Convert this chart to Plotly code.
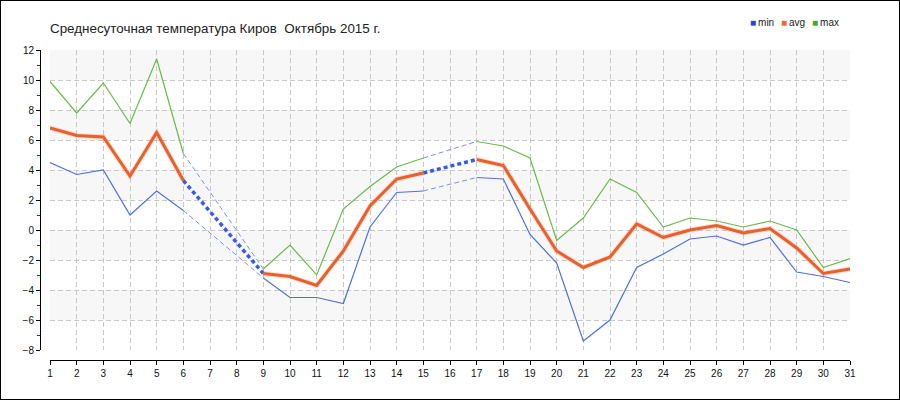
import plotly.graph_objects as go

days = list(range(1, 32))
t_min = [4.5, 3.7, 4.0, 1.0, 2.6, 1.3, None, None, -3.2, -4.5, -4.5, -4.9, 0.2, 2.5, 2.6, None,
         3.5, 3.4, -0.3, -2.2, -7.4, -6.0, -2.5, -1.6, -0.6, -0.4, -1.0, -0.5, -2.8, -3.1, -3.5]
t_avg = [6.8, 6.3, 6.2, 3.6, 6.5, 3.3, None, None, -2.9, -3.1, -3.7, -1.4, 1.6, 3.4, 3.8, None,
         4.7, 4.3, 1.4, -1.4, -2.5, -1.8, 0.4, -0.5, 0.0, 0.3, -0.2, 0.1, -1.2, -2.9, -2.6]
t_max = [9.9, 7.8, 9.8, 7.1, 11.4, 5.1, None, None, -2.6, -1.0, -3.0, 1.4, 2.9, 4.2, 4.8, None,
         5.9, 5.6, 4.8, -0.7, 0.8, 3.4, 2.5, 0.2, 0.8, 0.6, 0.2, 0.6, 0.0, -2.5, -1.9]
y_ticks = list(range(-8, 13, 2))
band_ranges = [(10, 12), (6, 8), (2, 4), (-2, 0), (-6, -4)]
title_text = "Среднесуточная температура Киров\u00a0 Октябрь 2015 г."
series_names = ["min", "avg", "max"]

W, H = 900, 400
C_MIN = "#4f6fe6"
C_AVG = "#e8602a"
C_MAX = "#6bbb4a"
C_GAP = "#7d8ff0"
C_GAPAVG = "#3a58ee"


def gap_segments(vals):
    xs, ys = [], []
    i = 0
    n = len(vals)
    while i < n:
        if vals[i] is None:
            j = i
            while j < n and vals[j] is None:
                j += 1
            if i > 0 and j < n:
                xs += [days[i - 1], days[j], None]
                ys += [vals[i - 1], vals[j], None]
            i = j
        else:
            i += 1
    return xs, ys


fig = go.Figure()

for vals, col, wd, dash in [(t_min, C_GAP, 1, "5px,3px"), (t_max, C_GAP, 1, "5px,3px"),
                            (t_avg, C_GAPAVG, 3.5, "4px,3px")]:
    gx, gy = gap_segments(vals)
    fig.add_trace(go.Scatter(x=gx, y=gy, mode="lines", showlegend=False, hoverinfo="skip",
                             line=dict(color=col, width=wd, dash=dash)))

fig.add_trace(go.Scatter(x=days, y=t_min, mode="lines", name="min", showlegend=False,
                         line=dict(color=C_MIN, width=1.2)))
fig.add_trace(go.Scatter(x=days, y=t_max, mode="lines", name="max", showlegend=False,
                         line=dict(color=C_MAX, width=1.2)))
fig.add_trace(go.Scatter(x=days, y=t_avg, mode="lines", showlegend=False, hoverinfo="skip",
                         line=dict(color="rgba(240,150,120,0.3)", width=5)))
fig.add_trace(go.Scatter(x=days, y=t_avg, mode="lines", name="avg", showlegend=False,
                         line=dict(color=C_AVG, width=3)))

x0p, x1p = 50 / W, 850 / W
shapes = []
for lo, hi in band_ranges:
    shapes.append(dict(type="rect", xref="paper", yref="y", x0=x0p, x1=x1p, y0=lo, y1=hi,
                       fillcolor="#f7f7f7", line=dict(width=0), layer="below"))
shapes.append(dict(type="rect", xref="paper", yref="paper", x0=0, x1=1, y0=0, y1=1,
                   line=dict(color="black", width=2), fillcolor="rgba(0,0,0,0)"))

annotations = []
leg_cols = ["#2244dd", "#ee6633", "#44aa22"]
leg_x = [748, 779, 810]
for name, col, lx in zip(series_names, leg_cols, leg_x):
    annotations.append(dict(xref="paper", yref="paper", x=lx / W, y=1 - 22 / H,
                            xanchor="left", yanchor="middle", showarrow=False,
                            text=f"<span style='color:{col}'>■</span>\u2009{name}",
                            font=dict(family="Liberation Sans", size=10, color="#222")))

fig.update_layout(
    width=W, height=H,
    margin=dict(l=0, r=0, t=0, b=0, pad=0, autoexpand=False),
    paper_bgcolor="white", plot_bgcolor="white",
    showlegend=False,
    title=dict(text=title_text, x=50 / W, xanchor="left", y=1 - 28 / H, yanchor="middle",
               font=dict(family="Liberation Sans", size=13.4, color="#222")),
    shapes=shapes,
    annotations=annotations,
    xaxis=dict(domain=[x0p, x1p], range=[1, 31], tick0=1, dtick=1, anchor="free",
               position=40 / H, showline=True, linecolor="black", linewidth=1,
               ticks="outside", ticklen=4, tickcolor="black", automargin=False,
               showgrid=True, gridcolor="#c8c8c8", griddash="5px,3px", gridwidth=1,
               zeroline=False, tickfont=dict(family="Liberation Sans", size=10, color="#111")),
    yaxis=dict(domain=[50 / H, 350 / H], range=[-8, 12], tickvals=y_ticks, anchor="free",
               position=40 / W, showline=True, linecolor="black", linewidth=1,
               ticks="outside", ticklen=4, tickcolor="black", automargin=False,
               minor=dict(dtick=1, ticks="outside", ticklen=3, tickcolor="#cc0000", showgrid=False),
               showgrid=True, gridcolor="#c8c8c8", griddash="5px,3px", gridwidth=1,
               zeroline=False, tickfont=dict(family="Liberation Sans", size=10, color="#111")),
)

post = (
    "document.documentElement.style.margin='0';"
    "document.documentElement.style.overflow='hidden';"
    "document.body.style.margin='0';document.body.style.overflow='hidden';"
    "var d=document.getElementsByClassName('plotly-graph-div')[0];"
    "d.style.position='absolute';d.style.left='0px';d.style.top='0px';"
)
fig.write_html("out.html", config={"displayModeBar": False}, post_script=post)
